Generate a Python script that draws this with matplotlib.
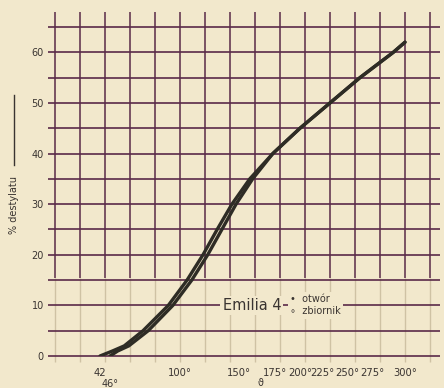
import numpy as np
import matplotlib
matplotlib.use("Agg")
import matplotlib.pyplot as plt
from matplotlib.lines import Line2D

# printed temperature scale: degrees -> grid cells along the x axis
SCALE_T = [42, 46, 100, 150, 175, 200, 225, 250, 275, 300]
SCALE_U = [1.8, 2.2, 5.0, 7.36, 8.8, 9.8, 10.7, 11.7, 12.7, 14.0]

# distillation curves, % distilled vs temperature
pct = [0, 1, 2, 5, 10, 15, 20, 25, 30, 35, 40, 45, 50, 55, 60, 62]
temp_otwor = [42, 48, 57, 71.5, 91, 106, 119.5, 131.5, 144, 157.5, 173.5, 200, 232.5, 262.5, 291, 300]
temp_zbiornik = [46, 52, 60.5, 75.5, 94.5, 110, 123.5, 135.5, 147.5, 159.5, 173.5, 200, 232.5, 262.5, 291, 300]

x_ticks = [42, 100, 150, 175, 200, 225, 250, 275, 300]
x_labels = ["42", "100°", "150°", "175°", "200°", "225°", "250°", "275°", "300°"]
y_ticks = [0, 10, 20, 30, 40, 50, 60]

PAPER = "#f2e8cc"
GRID = "#5a2a48"
FAINT = "#cfc2a4"
INK = "#2e2c25"
TEXT = "#3a3431"


def to_grid(t):
    return np.interp(t, SCALE_T, SCALE_U)


fig = plt.figure(figsize=(4.44, 3.88), dpi=100, facecolor=PAPER)
ax = fig.add_axes([55 / 444, 32 / 388, 375 / 444, 329 / 388])
ax.set_facecolor(PAPER)
ax.set_xlim(0, 15)
ax.set_ylim(0, 65)
for s in ax.spines.values():
    s.set_visible(False)

# hand ruled grid, lines run a little past the frame
cols = np.arange(0, 16)
rows = np.arange(0, 66, 5)
ax.vlines(cols, -1.2, 15.5, color=FAINT, lw=1.0, clip_on=False, zorder=1)
ax.vlines(cols, 15.5, 67.9, color=GRID, lw=1.1, clip_on=False, zorder=2)
ax.hlines(rows, -0.28, 15.4, color=GRID, lw=1.2, clip_on=False, zorder=2)

# curves
for temps in (temp_otwor, temp_zbiornik):
    ax.plot(to_grid(temps), pct, color=INK, lw=2.4, solid_capstyle="round",
            solid_joinstyle="round", zorder=4)

# axes ticks
ax.set_yticks(y_ticks, [str(v) for v in y_ticks])
ax.set_xticks(to_grid(x_ticks), x_labels)
ax.set_xticks([to_grid(46)], ["46°"], minor=True)
ax.tick_params(axis="y", length=0, pad=8, labelsize=7, labelcolor=TEXT)
ax.tick_params(axis="x", which="major", length=0, pad=9, labelsize=7.2, labelcolor=TEXT)
ax.tick_params(axis="x", which="minor", length=0, pad=16.5, labelsize=7, labelcolor=TEXT)

fig.text(260 / 444, 1 - 383 / 388, "ϑ", fontsize=7, color=TEXT, ha="center", va="center")

# y axis title with its arrow line
fig.text(14 / 444, 1 - 205 / 388, "% destylatu", rotation=90, fontsize=7,
         color=TEXT, ha="center", va="center")
fig.add_artist(Line2D([14 / 444, 14 / 444], [1 - 165 / 388, 1 - 95 / 388],
                      color=TEXT, lw=1.0))

# legend block
box = dict(facecolor=PAPER, edgecolor="none", pad=1.5)
ax.text(6.7, 9.9, "Emilia 4", fontsize=10.5, color=TEXT, ha="left",
        va="center", bbox=box, zorder=5)
ax.text(9.4, 11.2, "•  otwór", fontsize=7, color=TEXT, ha="left",
        va="center", bbox=box, zorder=5)
ax.text(9.4, 8.8, "∘  zbiornik", fontsize=7, color=TEXT, ha="left",
        va="center", bbox=box, zorder=5)

fig.savefig("out.png", dpi=100, facecolor=PAPER)
